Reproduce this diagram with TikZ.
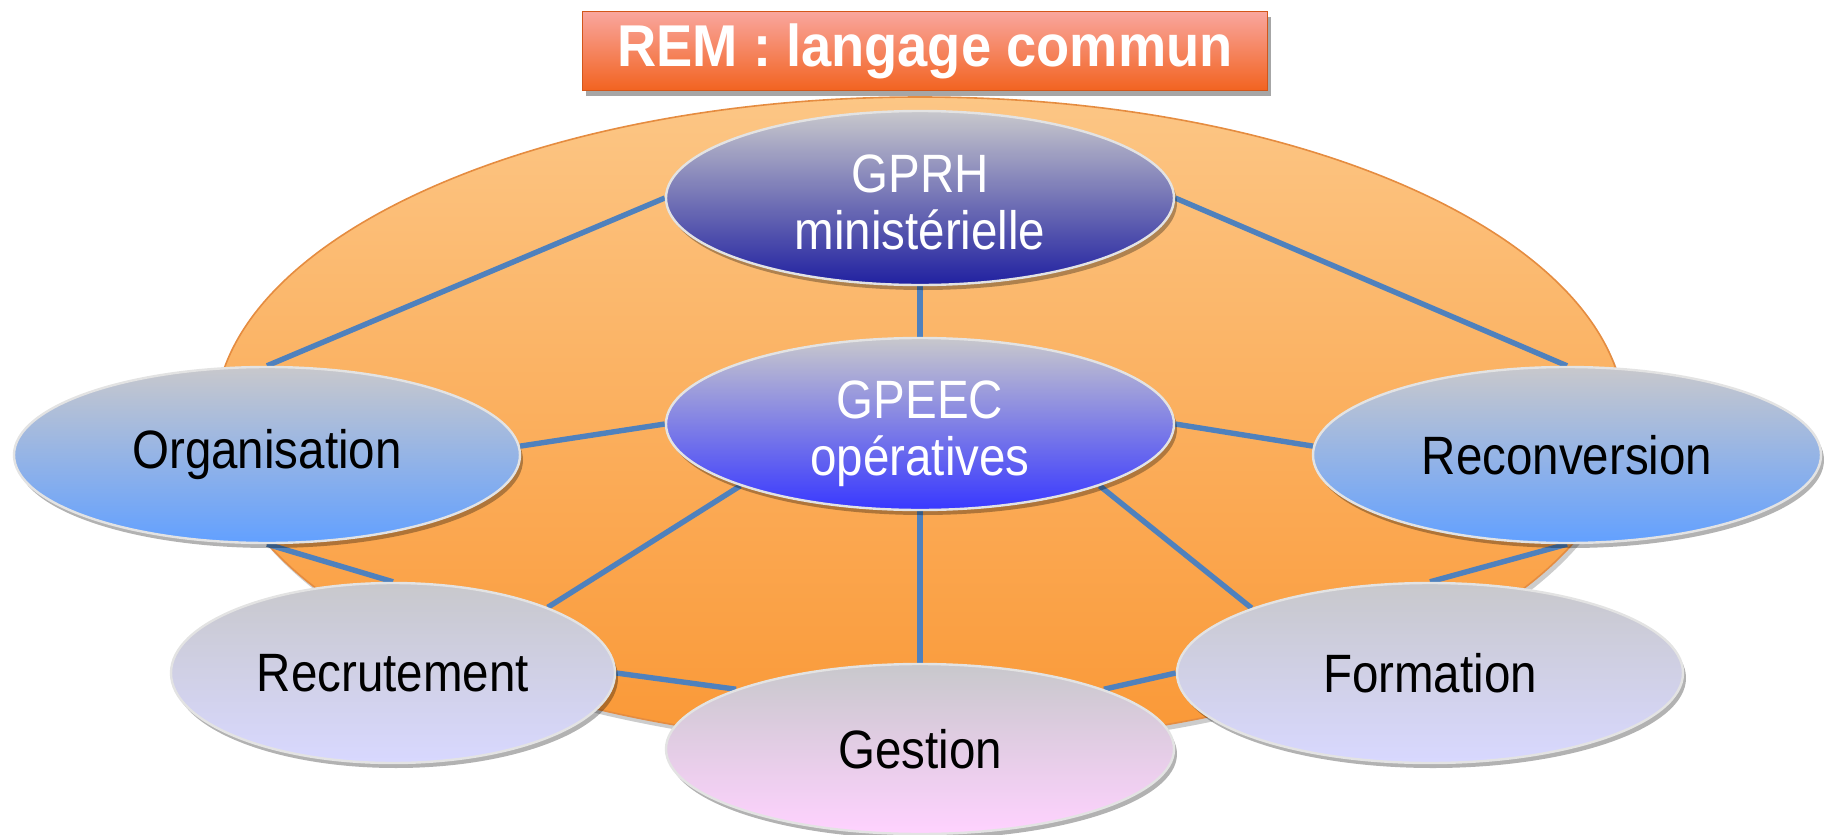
\documentclass[tikz,border=0pt]{standalone}
\usepackage{fontspec}
\setmainfont{Liberation Sans}
\newfontfamily\labfont[FakeStretch=0.88]{Liberation Sans}
\newfontfamily\titfont[FakeStretch=0.92]{Liberation Sans}
\usetikzlibrary{shapes.geometric,shadows}
\pgfdeclarelayer{bg}
\pgfsetlayers{bg,main}
\definecolor{linkblue}{HTML}{4F81BD}
\definecolor{capgray}{HTML}{C8C8CC}
\definecolor{orlight}{HTML}{FCC685}
\definecolor{ordark}{HTML}{FA9836}
\definecolor{oredge}{HTML}{E58C40}
\definecolor{titlight}{HTML}{F9A69E}
\definecolor{titmid}{HTML}{F7906A}
\definecolor{titdark}{HTML}{F26320}
\definecolor{titedge}{HTML}{D2561A}
\definecolor{navymid}{HTML}{7878AC}
\definecolor{navybot}{HTML}{2020A0}
\definecolor{violmid}{HTML}{9090E6}
\definecolor{violbot}{HTML}{3838FF}
\definecolor{skymid}{HTML}{9AB2EA}
\definecolor{skybot}{HTML}{62A0FF}
\definecolor{lavmid}{HTML}{D0D0EE}
\definecolor{lavbot}{HTML}{D8D8FF}
\definecolor{pinkmid}{HTML}{E6CCEA}
\definecolor{pinkbot}{HTML}{FFD2FF}
\newcommand{\twolines}[2]{\raisebox{-6pt}[\height][\depth]{\begin{tabular}{@{}c@{}}#1\\#2\end{tabular}}}
\tikzset{
  bub/.style={ellipse, inner sep=0pt, draw=white!78!gray, line width=1.2pt,
    drop shadow={shadow xshift=1.5pt, shadow yshift=-2.5pt, opacity=0.3, fill=black},
    font=\labfont\fontsize{27}{28.5}\selectfont},
  navy/.style={bub, top color=capgray, middle color=navymid, bottom color=navybot, text=white},
  violet/.style={bub, top color=capgray, middle color=violmid, bottom color=violbot, text=white},
  sky/.style={bub, top color=capgray, middle color=skymid, bottom color=skybot, text=black},
  lav/.style={bub, top color=capgray, middle color=lavmid, bottom color=lavbot, text=black},
  pink/.style={bub, top color=capgray, middle color=pinkmid, bottom color=pinkbot, text=black},
  link/.style={draw=linkblue, line width=2.7pt},
}
\begin{document}
\begin{tikzpicture}[x=0.5pt,y=-0.5pt]
\useasboundingbox (0,0) rectangle (1827,835);
\begin{pgfonlayer}{bg}
\node[ellipse, inner sep=0pt, minimum width=705pt, minimum height=324pt,
  top color=orlight, bottom color=ordark, draw=oredge, line width=0.8pt,
  drop shadow={shadow xshift=1.5pt, shadow yshift=-2.5pt, opacity=0.2, fill=black}] (rem) at (920,421) {};
\end{pgfonlayer}

\node[rectangle, minimum width=342.5pt, minimum height=39.5pt, inner sep=0pt,
  top color=titlight, middle color=titmid, bottom color=titdark, draw=titedge, line width=0.8pt,
  drop shadow={shadow xshift=1.5pt, shadow yshift=-2.5pt, opacity=0.35, fill=black},
  text=white, font=\titfont\bfseries\fontsize{29.5}{31}\selectfont] (title) at (925,51) {REM : langage commun};

\node[navy, minimum width=254pt, minimum height=87pt] (gprh) at (920,198) {\twolines{GPRH}{ministérielle}};
\node[violet, minimum width=254pt, minimum height=86pt] (gpeec) at (920,424) {\twolines{GPEEC}{opératives}};
\node[sky, minimum width=253pt, minimum height=88pt] (org) at (267,455) {Organisation};
\node[sky, minimum width=254pt, minimum height=88pt] (recon) at (1567,455) {Reconversion};
\node[lav, minimum width=222pt, minimum height=90pt] (recr) at (393,673) {Recrutement};
\node[lav, minimum width=253pt, minimum height=90pt] (form) at (1430,673) {Formation};
\node[pink, minimum width=254pt, minimum height=85pt] (gest) at (920,749) {Gestion};

\begin{pgfonlayer}{bg}
\draw[link] (gprh.west) -- (org.north);
\draw[link] (gprh.east) -- (recon.north);
\draw[link] (gprh.south) -- (gpeec.north);
\draw[link] (gpeec.west) -- (org.2);
\draw[link] (gpeec.east) -- (recon.178);
\draw[link] (gpeec.199) -- (recr.23);
\draw[link] (gpeec.south) -- (gest.north);
\draw[link] (gpeec.341) -- (form.160);
\draw[link] (org.south) -- (recr.north);
\draw[link] (recon.south) -- (form.north);
\draw[link] (recr.east) -- (gest.162);
\draw[link] (form.west) -- (gest.18);
\end{pgfonlayer}
\end{tikzpicture}
\end{document}
